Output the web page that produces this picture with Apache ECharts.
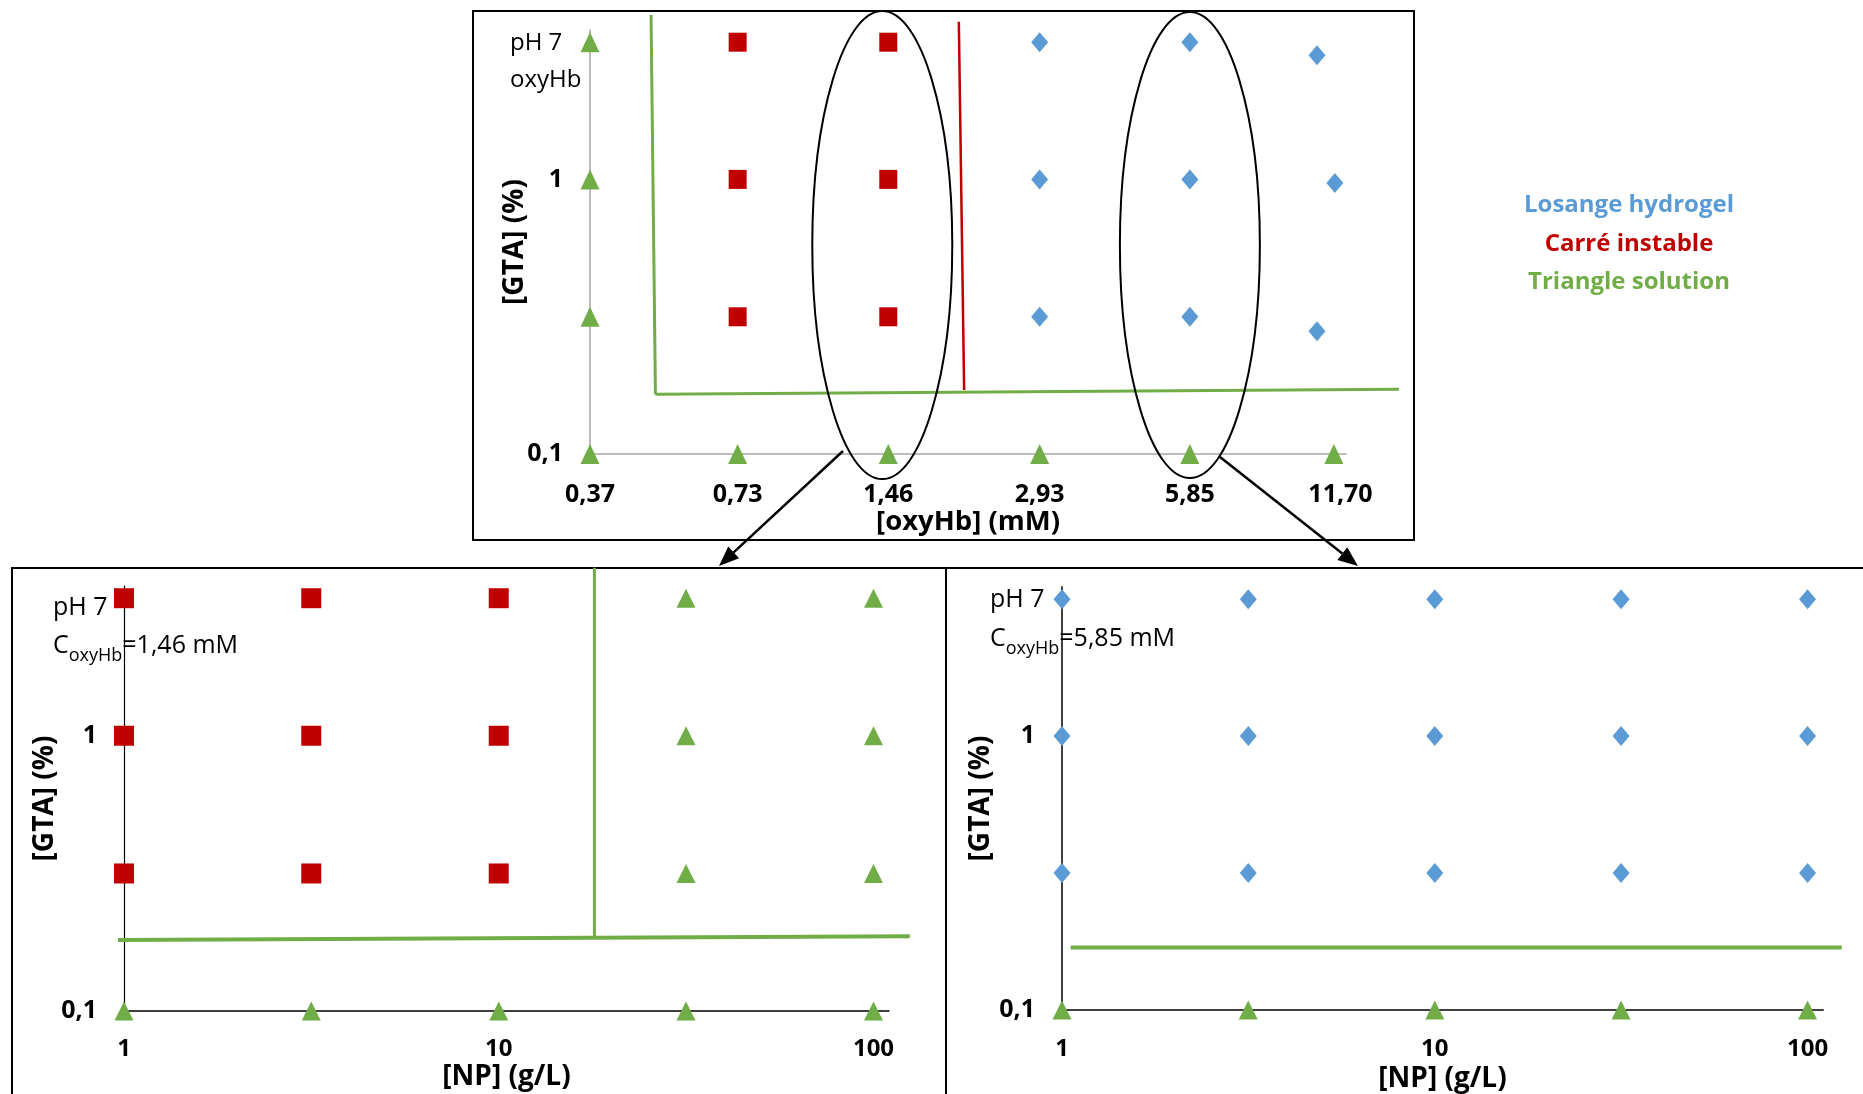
<!DOCTYPE html>
<html><head><meta charset="utf-8">
<script src="https://cdn.jsdelivr.net/npm/echarts@6/dist/echarts.min.js"></script>
<style>html,body{margin:0;padding:0;background:#fff}#c{width:1863px;height:1094px}</style>
</head><body><div id="c"></div>
<script>
// ---------- data ----------
const oxyHbTicks = [0.37, 0.73, 1.46, 2.93, 5.85, 11.70];   // top x tick labels (mM)
const npTicks = [1, 10, 100];                                // bottom x tick labels (g/L)
const gtaTicks = [0.1, 1];                                   // y tick labels (%)

// Top panel: [oxyHb] vs [GTA]
const topSolution = [[0.37,3.16],[0.37,1],[0.37,0.316],[0.37,0.1],[0.73,0.1],[1.46,0.1],[2.93,0.1],[5.85,0.1],[11.35,0.1]];
const topInstable = [[0.73,3.16],[0.73,1],[0.73,0.316],[1.46,3.16],[1.46,1],[1.46,0.316]];
const topHydrogel = [[2.93,3.16],[2.93,1],[2.93,0.316],[5.85,3.16],[5.85,1],[5.85,0.316],[10.5,2.83],[11.4,0.97],[10.5,0.28]];
const topSolutionBoundary = [[0.49,3.97],[0.50,0.165],[15.3,0.172]];
const topInstableBoundary = [[2.02,3.75],[2.07,0.171]];

// Bottom-left panel: C oxyHb = 1,46 mM, [NP] vs [GTA]
const blInstable = [[1,3.16],[3.16,3.16],[10,3.16],[1,1],[3.16,1],[10,1],[1,0.316],[3.16,0.316],[10,0.316]];
const blSolution = [[31.6,3.16],[100,3.16],[31.6,1],[100,1],[31.6,0.316],[100,0.316],[1,0.1],[3.16,0.1],[10,0.1],[31.6,0.1],[100,0.1]];
const blBoundaryH = [[0.963,0.181],[125,0.187]];
const blBoundaryV = [[18,4.08],[18,0.186]];

// Bottom-right panel: C oxyHb = 5,85 mM
const brHydrogel = [[1,3.16],[3.16,3.16],[10,3.16],[31.6,3.16],[100,3.16],[1,1],[3.16,1],[10,1],[31.6,1],[100,1],[1,0.316],[3.16,0.316],[10,0.316],[31.6,0.316],[100,0.316]];
const brSolution = [[1,0.1],[3.16,0.1],[10,0.1],[31.6,0.1],[100,0.1]];
const brBoundary = [[1.055,0.169],[123.5,0.169]];

// ---------- style ----------
const FONT = "'Open Sans','Noto Sans',sans-serif";
const GREEN = '#70AD47', RED = '#C00000', BLUE = '#5B9BD5';

function pick(list, v) { for (const t of list) if (Math.abs(v / t - 1) < 1e-4) return t; return null; }
const fmtOxy = v => { const t = pick(oxyHbTicks, v); return t === null ? '' : t.toFixed(2).replace('.', ','); };
const fmtList = list => v => { const t = pick(list, v); return t === null ? '' : String(t).replace('.', ','); };

function xAxis(gi, opt) {
  return Object.assign({
    gridIndex: gi, type: 'log', nameLocation: 'middle',
    axisLine: { show: true, onZero: false, lineStyle: { color: opt.lineColor, width: opt.lineWidth } },
    axisTick: { show: false }, splitLine: { show: false },
    nameTextStyle: { fontFamily: FONT, fontSize: opt.nameSize, fontWeight: 'bold', color: '#000' }
  }, opt.extra);
}
function yAxis(gi, opt) {
  return {
    gridIndex: gi, type: 'log', logBase: 10, min: 0.1, max: 3.5,
    name: '[GTA] (%)', nameLocation: 'middle', nameRotate: 90, nameGap: opt.nameGap, nameMoveOverlap: false,
    nameTextStyle: { fontFamily: FONT, fontSize: 28, fontWeight: 'bold', color: '#000' },
    axisLine: { show: true, onZero: false, lineStyle: { color: opt.lineColor, width: opt.lineWidth } },
    axisTick: { show: false }, splitLine: { show: false },
    axisLabel: { fontFamily: FONT, fontSize: 25, fontWeight: 'bold', color: '#000', margin: 27, formatter: fmtList(gtaTicks) }
  };
}
function sc(gi, name, symbol, size, color, data) {
  return { type: 'scatter', name, xAxisIndex: gi, yAxisIndex: gi, symbol, symbolSize: size,
    itemStyle: { color, opacity: 1 }, data, z: 3, silent: true };
}
// boundary polylines drawn through the axes' own scales (api.coord), not clipped to the grid
function ln(gi, color, width, data) {
  return { type: 'custom', xAxisIndex: gi, yAxisIndex: gi, data, clip: false, z: 2, silent: true,
    encode: { x: 0, y: 1 },
    renderItem: (params, api) => {
      const i = params.dataIndex;
      if (i >= data.length - 1) return null;
      const p1 = api.coord(data[i]), p2 = api.coord(data[i + 1]);
      return { type: 'line', shape: { x1: p1[0], y1: p1[1], x2: p2[0], y2: p2[1] },
        style: { stroke: color, lineWidth: width, lineCap: 'butt' } };
    } };
}

const chart = echarts.init(document.getElementById('c'), null, { renderer: 'canvas' });
chart.setOption({
  animation: false,
  backgroundColor: '#fff',
  grid: [
    { left: 590, top: 30, width: 756, height: 424 },
    { left: 124, top: 586, width: 765, height: 425 },
    { left: 1062, top: 587, width: 761, height: 423 }
  ],
  xAxis: [
    xAxis(0, { lineColor: '#A6A6A6', lineWidth: 1.5, nameSize: 27.5, extra: {
      logBase: 2, min: 0.37, max: 12, name: '[oxyHb] (mM)', nameGap: 54,
      axisLabel: { fontFamily: FONT, fontSize: 25, fontWeight: 'bold', color: '#000', margin: 28,
        customValues: oxyHbTicks, formatter: fmtOxy } } }),
    xAxis(1, { lineColor: '#000', lineWidth: 1.5, nameSize: 28, extra: {
      logBase: 10, min: 1, max: 110, name: '[NP] (g/L)', nameGap: 52,
      axisLabel: { fontFamily: FONT, fontSize: 24, fontWeight: 'bold', color: '#000', margin: 26, formatter: fmtList(npTicks) } } }),
    xAxis(2, { lineColor: '#404040', lineWidth: 2, nameSize: 28, extra: {
      logBase: 10, min: 1, max: 110, name: '[NP] (g/L)', nameGap: 55,
      axisLabel: { fontFamily: FONT, fontSize: 24, fontWeight: 'bold', color: '#000', margin: 27, formatter: fmtList(npTicks) } } })
  ],
  yAxis: [
    yAxis(0, { lineColor: '#A6A6A6', lineWidth: 1.5, nameGap: 61 }),
    yAxis(1, { lineColor: '#000', lineWidth: 1.2, nameGap: 65 }),
    yAxis(2, { lineColor: '#404040', lineWidth: 2, nameGap: 67 })
  ],
  series: [
    ln(0, GREEN, 3, topSolutionBoundary),
    ln(0, RED, 2.5, topInstableBoundary),
    sc(0, 'Triangle solution', 'triangle', [19, 20], GREEN, topSolution),
    sc(0, 'Carré instable', 'rect', [18, 19], RED, topInstable),
    sc(0, 'Losange hydrogel', 'diamond', [17, 20], BLUE, topHydrogel),

    ln(1, GREEN, 4, blBoundaryH),
    ln(1, GREEN, 3, blBoundaryV),
    sc(1, 'Carré instable', 'rect', [20, 20], RED, blInstable),
    sc(1, 'Triangle solution', 'triangle', [19, 19], GREEN, blSolution),

    ln(2, GREEN, 4, brBoundary),
    sc(2, 'Losange hydrogel', 'diamond', [17, 20], BLUE, brHydrogel),
    sc(2, 'Triangle solution', 'triangle', [19, 19], GREEN, brSolution)
  ]
});

// ---------- annotations ----------
const px = (gi, p) => chart.convertToPixel({ gridIndex: gi }, p);
function arrow(x1, y1, x2, y2) {
  const a = Math.atan2(y2 - y1, x2 - x1), L = 20, W = 8;
  const bx = x2 - L * Math.cos(a), by = y2 - L * Math.sin(a);
  const ox = -Math.sin(a) * W, oy = Math.cos(a) * W;
  return [
    { type: 'line', z: 20, shape: { x1, y1, x2: bx, y2: by }, style: { stroke: '#000', lineWidth: 2.5 } },
    { type: 'polygon', z: 20, shape: { points: [[x2, y2], [bx + ox, by + oy], [bx - ox, by - oy]] }, style: { fill: '#000' } }
  ];
}
function txt(x, y, text, size, extra) {
  return { type: 'text', x, y, z: 30, style: Object.assign({ text, fill: '#000', fontFamily: FONT, fontSize: size,
    textAlign: 'left', textVerticalAlign: 'middle', verticalAlign: 'middle' }, extra || {}) };
}
function subText(x, y, value) {
  return { type: 'text', x, y, z: 30, style: {
    text: '{m|C}{s|oxyHb}{m|=' + value + ' mM}', textAlign: 'left', verticalAlign: 'middle', textVerticalAlign: 'middle',
    rich: {
      m: { fontFamily: FONT, fontSize: 25, lineHeight: 37, fill: '#000' },
      s: { fontFamily: FONT, fontSize: 18, lineHeight: 18, verticalAlign: 'bottom', fill: '#000' }
    } } };
}
const c1 = px(0, [1.46, 3.16]), c2 = px(0, [5.85, 3.16]), base = px(0, [1.46, 0.1]);
const ellCy = (c1[1] + base[1]) / 2 - 3;
const graphics = [
  { type: 'rect', z: 1, shape: { x: 473, y: 11, width: 941, height: 529 }, style: { fill: null, stroke: '#000', lineWidth: 2 } },
  { type: 'rect', z: 1, shape: { x: 12, y: 568, width: 934, height: 540 }, style: { fill: null, stroke: '#000', lineWidth: 2 } },
  { type: 'rect', z: 1, shape: { x: 946, y: 568, width: 940, height: 540 }, style: { fill: null, stroke: '#000', lineWidth: 2 } },
  { type: 'ellipse', z: 20, shape: { cx: c1[0] - 6, cy: ellCy, rx: 70, ry: 234 }, style: { fill: null, stroke: '#000', lineWidth: 2 } },
  { type: 'ellipse', z: 20, shape: { cx: c2[0], cy: ellCy, rx: 70, ry: 233 }, style: { fill: null, stroke: '#000', lineWidth: 2 } },
  ...arrow(843, 451, 719, 566),
  ...arrow(1220, 457, 1358, 566),
  txt(510, 43, 'pH 7', 24),
  txt(510, 80, 'oxyHb', 24),
  txt(53, 608, 'pH 7', 25),
  subText(53, 646, '1,46'),
  txt(990, 600, 'pH 7', 25),
  subText(990, 639, '5,85'),
  txt(1629, 205, 'Losange hydrogel', 24, { fill: BLUE, fontWeight: 'bold', textAlign: 'center' }),
  txt(1629, 244, 'Carré instable', 24, { fill: RED, fontWeight: 'bold', textAlign: 'center' }),
  txt(1629, 282, 'Triangle solution', 24, { fill: GREEN, fontWeight: 'bold', textAlign: 'center' })
];
chart.setOption({ graphic: graphics });
</script>
</body></html>
